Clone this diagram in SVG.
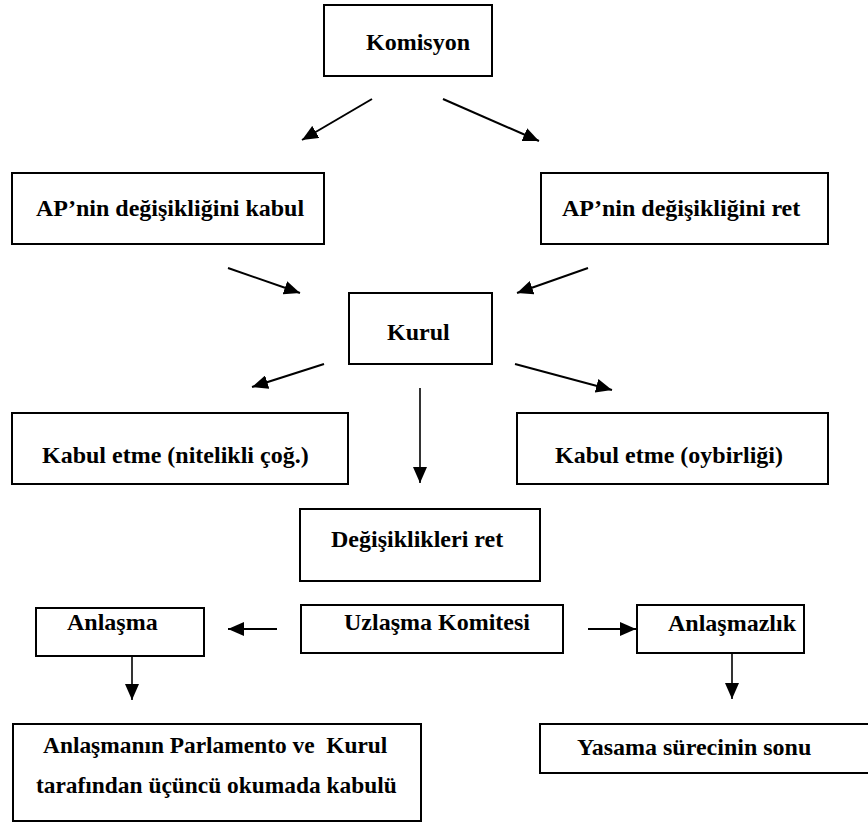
<svg xmlns="http://www.w3.org/2000/svg" width="868" height="823" viewBox="0 0 868 823">
<defs>
<style>
.box{fill:#fff;stroke:#000;stroke-width:2}
.lbl{font-family:"Liberation Serif","Times New Roman",serif;font-weight:bold;font-size:24px;fill:#000}
.c{stroke:#000;stroke-width:2;fill:none;marker-end:url(#ah)}
.v{stroke:#000;stroke-width:1.6;fill:none;marker-end:url(#ah)}
</style>
<marker id="ah" markerUnits="userSpaceOnUse" markerWidth="17" markerHeight="14" refX="16" refY="7" orient="auto">
<path d="M0,0 L16,7 L0,14 z" fill="#000"/>
</marker>
</defs>
<rect width="868" height="823" fill="#fff"/>
<g id="connectors">
<line class="c" x1="372" y1="99" x2="302" y2="140"/>
<line class="c" x1="443" y1="99" x2="539" y2="141"/>
<line class="c" x1="228" y1="268" x2="300" y2="293"/>
<line class="c" x1="588" y1="268" x2="517" y2="293"/>
<line class="c" x1="324" y1="364" x2="252" y2="387"/>
<line class="c" x1="515" y1="364" x2="612" y2="390"/>
<line class="v" x1="420" y1="388" x2="420" y2="483"/>
<line class="c" x1="277" y1="629" x2="228" y2="629"/>
<line class="c" x1="588" y1="629" x2="636" y2="629"/>
<line class="v" x1="132" y1="653" x2="132" y2="700"/>
<line class="v" x1="732" y1="653" x2="732" y2="699"/>
</g>
<g id="komisyon"><rect class="box" x="324" y="5" width="168" height="71"/><text class="lbl" x="366" y="50">Komisyon</text></g>
<g id="ap-kabul"><rect class="box" x="12" y="173" width="312" height="71"/><text class="lbl" x="36" y="216">AP’nin değişikliğini kabul</text></g>
<g id="ap-ret"><rect class="box" x="541" y="173" width="287" height="71"/><text class="lbl" x="562" y="216">AP’nin değişikliğini ret</text></g>
<g id="kurul"><rect class="box" x="349" y="293" width="143" height="71"/><text class="lbl" x="387" y="340">Kurul</text></g>
<g id="kabul-nitelikli"><rect class="box" x="12" y="413" width="336" height="71"/><text class="lbl" x="42" y="463">Kabul etme (nitelikli çoğ.)</text></g>
<g id="kabul-oybirligi"><rect class="box" x="517" y="413" width="311" height="71"/><text class="lbl" x="555" y="463">Kabul etme (oybirliği)</text></g>
<g id="degisiklikleri-ret"><rect class="box" x="300" y="509" width="240" height="72"/><text class="lbl" x="331" y="547">Değişiklikleri ret</text></g>
<g id="anlasma"><rect class="box" x="36" y="608" width="168" height="48"/><text class="lbl" x="67" y="630">Anlaşma</text></g>
<g id="uzlasma"><rect class="box" x="301" y="605" width="262" height="48"/><text class="lbl" x="344" y="630">Uzlaşma Komitesi</text></g>
<g id="anlasmazlik"><rect class="box" x="637" y="605" width="167" height="48"/><text class="lbl" x="668" y="631">Anlaşmazlık</text></g>
<g id="ucuncu-okuma"><rect class="box" x="13" y="724" width="408" height="97"/><text class="lbl" x="43" y="753" xml:space="preserve" style="font-size:23.4px">Anlaşmanın Parlamento ve  Kurul</text><text class="lbl" x="36" y="793" style="font-size:23.4px">tarafından üçüncü okumada kabulü</text></g>
<g id="yasama-sonu"><rect class="box" x="540" y="724" width="340" height="49"/><text class="lbl" x="577" y="755">Yasama sürecinin sonu</text></g>
</svg>
